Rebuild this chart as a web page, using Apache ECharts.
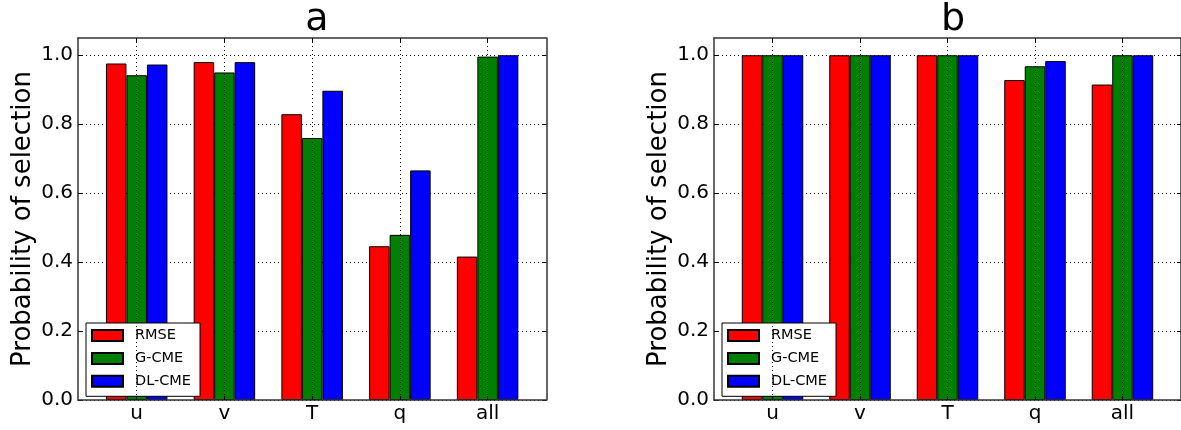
<!DOCTYPE html>
<html>
<head>
<meta charset="utf-8">
<script src="https://cdn.jsdelivr.net/npm/echarts@6/dist/echarts.min.js"></script>
<style>
  html, body { margin: 0; padding: 0; background: #fff; }
  #chart { width: 1181px; height: 430px; }
</style>
</head>
<body>
<div id="chart"></div>
<script>
// variables on the x axis
const categories = ['u', 'v', 'T', 'q', 'all']
const methods = ['RMSE', 'G-CME', 'DL-CME']
const colors = ['#ff0000', '#008000', '#0000ff']

// panel a
const aRMSE = [0.976, 0.980, 0.829, 0.446, 0.416]
const aGCME = [0.942, 0.950, 0.760, 0.479, 0.996]
const aDLCME = [0.973, 0.980, 0.897, 0.666, 1.0]

// panel b
const bRMSE = [1.0, 1.0, 1.0, 0.928, 0.915]
const bGCME = [1.0, 1.0, 1.0, 0.968, 1.0]
const bDLCME = [1.0, 1.0, 1.0, 0.983, 1.0]

const yTicks = [0, 0.2, 0.4, 0.6, 0.8, 1.0]

const font = 'DejaVu Sans'
const frame = { show: true, onZero: false, lineStyle: { color: '#333', width: 1.5 } }
const dotted = { color: '#000', width: 1, type: [1, 3] }
const catIdx = categories.map((_, i) => i)

function xAxes(grid) {
  const base = { type: 'value', gridIndex: grid, min: -0.669, max: 4.669, axisLine: frame }
  return [
    {
      ...base, position: 'bottom', z: 5,
      axisTick: { inside: true, length: 4, customValues: catIdx, lineStyle: { color: '#000' } },
      axisLabel: {
        customValues: catIdx, margin: 4, color: '#000', fontFamily: font, fontSize: 20,
        formatter: (v) => categories[Math.round(v)]
      },
      splitLine: { show: true, lineStyle: dotted }
    },
    {
      ...base, position: 'top',
      axisTick: { inside: true, length: 4, customValues: catIdx, lineStyle: { color: '#000' } },
      axisLabel: { show: false },
      splitLine: { show: false }
    }
  ]
}

function yAxes(grid) {
  const base = { type: 'value', gridIndex: grid, min: 0, max: 1.05, interval: 0.2, axisLine: frame }
  return [
    {
      ...base, position: 'left',
      name: 'Probability of selection', nameLocation: 'middle', nameGap: 42,
      nameTextStyle: { color: '#000', fontFamily: font, fontSize: 26 },
      axisTick: { inside: true, length: 4, customValues: yTicks, lineStyle: { color: '#000' } },
      axisLabel: {
        customValues: yTicks, margin: 5, color: '#000', fontFamily: font, fontSize: 20,
        formatter: (v) => v.toFixed(1)
      },
      splitLine: { show: true, lineStyle: dotted }
    },
    {
      ...base, position: 'right',
      axisTick: { inside: true, length: 4, customValues: yTicks, lineStyle: { color: '#000' } },
      axisLabel: { show: false },
      splitLine: { show: false }
    }
  ]
}

function bars(grid, lists) {
  return lists.map((vals, k) => ({
    name: methods[k],
    type: 'bar',
    xAxisIndex: grid * 2,
    yAxisIndex: grid * 2,
    barWidth: 20.5,
    barGap: '0%',
    data: vals.map((v, i) => [i, v]),
    itemStyle: { color: colors[k], borderColor: '#000', borderWidth: 1 }
  }))
}

function legend(left) {
  return {
    data: methods,
    orient: 'vertical',
    left: left,
    top: 323,
    padding: [5, 9, 7.5, 5],
    itemWidth: 31,
    itemHeight: 11,
    itemGap: 7.9,
    backgroundColor: '#fff',
    borderColor: '#000',
    borderWidth: 1,
    borderRadius: 0,
    icon: 'rect',
    selectedMode: false,
    textStyle: { color: '#000', fontFamily: font, fontSize: 14.5, lineHeight: 11, padding: [0, 0, 0, 7] }
  }
}

const chart = echarts.init(document.getElementById('chart'), null, { renderer: 'canvas' })
chart.setOption({
  backgroundColor: '#fff',
  animation: false,
  title: [
    { text: 'a', left: 312, top: -4, textAlign: 'center', textStyle: { color: '#000', fontFamily: font, fontSize: 38, fontWeight: 'normal' } },
    { text: 'b', left: 948, top: -4, textAlign: 'center', textStyle: { color: '#000', fontFamily: font, fontSize: 38, fontWeight: 'normal' } }
  ],
  legend: [legend(86), legend(722)],
  grid: [
    { left: 78, top: 38, width: 468.3, height: 362 },
    { left: 714, top: 38, width: 468.3, height: 362 }
  ],
  xAxis: [...xAxes(0), ...xAxes(1)],
  yAxis: [...yAxes(0), ...yAxes(1)],
  series: [
    ...bars(0, [aRMSE, aGCME, aDLCME]),
    ...bars(1, [bRMSE, bGCME, bDLCME])
  ]
})
</script>
</body>
</html>
